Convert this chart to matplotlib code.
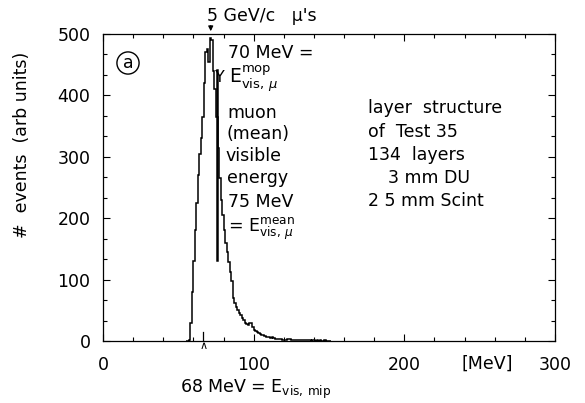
import numpy as np
import matplotlib
matplotlib.use("Agg")
import matplotlib.pyplot as plt
from matplotlib.ticker import MultipleLocator

plt.rcParams['font.family'] = ['DejaVu Sans']
plt.rcParams['mathtext.fontset'] = 'dejavusans'

# ---- data ----
bin_start = 55          # MeV, 1 MeV bins
counts = [0, 0, 2, 30, 80, 130, 180, 225, 270, 305,          # 55-64
          330, 365, 420, 470, 475, 455, 493, 490, 440, 410,  # 65-74
          365, 315, 265, 230, 205, 180, 160, 145, 128, 112,  # 75-84
          97, 70, 62, 56, 50, 46, 42, 38, 34, 30,            # 85-94
          27, 26, 30, 29, 22, 18, 16, 15, 13, 11,            # 95-104
          10, 9, 8, 7, 7, 6, 5, 6, 5, 4,                     # 105-114
          4, 3, 3, 3, 2, 2, 2, 3, 3, 3,                      # 115-124
          2, 2, 1, 1, 2, 1, 1, 1, 2, 1,                      # 125-134
          1, 1, 1, 0, 1, 1, 0, 1, 0, 1,                      # 135-144
          0, 0, 1, 0, 0, 0]                                  # 145-150
x_ticks = [0, 100, 200, 300]
y_ticks = [0, 100, 200, 300, 400, 500]
e_mop_marker = 71.5    # arrow at top (beam)
e_mean_marker = 75.5   # vertical mean line
e_mip_marker = 66.5    # caret below axis
mean_line_range = [132, 441]

W, H = 585, 403
fig = plt.figure(figsize=(W / 100, H / 100), dpi=100)
ax = fig.add_axes([103 / W, 1 - 341 / H, (555 - 103) / W, (341 - 34) / H])

edges = np.arange(bin_start, bin_start + len(counts) + 1)
ax.stairs(counts, edges, color='black', lw=1.1)

ax.set_xlim(0, 300)
ax.set_ylim(0, 500)
ax.set_xticks(x_ticks)
ax.set_yticks(y_ticks)
ax.xaxis.set_minor_locator(MultipleLocator(20))
ax.yaxis.set_minor_locator(MultipleLocator(100 / 3))
ax.tick_params(which='both', direction='in', top=True, right=True,
               width=0.8, labelsize=12.5)
ax.tick_params(which='major', length=5)
ax.tick_params(which='minor', length=3)
ax.tick_params(axis='x', pad=11)
ax.tick_params(axis='y', pad=9)
for s in ax.spines.values():
    s.set_linewidth(0.9)

# mean line
ax.plot([e_mean_marker, e_mean_marker], mean_line_range, color='black', lw=1.8)
# arrow from top label to peak
ax.annotate('', xy=(e_mop_marker, 500), xytext=(e_mop_marker, 518),
            arrowprops=dict(arrowstyle='-|>', color='black', lw=0.9,
                            mutation_scale=7), annotation_clip=False)
# caret below axis for E_vis,mip
ax.plot([e_mip_marker, e_mip_marker], [0, 14], color='black', lw=0.9)
ax.text(e_mip_marker, -8, '∧', ha='center', va='center', fontsize=8,
        clip_on=False)

def fx(px):
    return px / W

def fy(py):
    return 1 - py / H

fs = 12.5
fig.text(fx(22), fy(145), '#  events  (arb units)', rotation=90,
         ha='center', va='center', fontsize=fs)
fig.text(fx(487), fy(364), '[MeV]', ha='center', va='center', fontsize=fs)
fig.text(fx(207), fy(16), "5 GeV/c   μ's", ha='left', va='center', fontsize=fs)
fig.text(fx(180), fy(389),
         r'68 MeV = $\mathrm{E}_{\mathrm{vis,\,mip}}$',
         ha='left', va='center', fontsize=fs)

fig.text(fx(128), fy(63), 'a', ha='center', va='center', fontsize=fs,
         bbox=dict(boxstyle='circle,pad=0.12', fc='none', ec='black', lw=1))

# left annotation block
fig.text(fx(228), fy(53), '70 MeV =', ha='left', va='center', fontsize=fs)
fig.text(fx(215), fy(77), 'Y', ha='left', va='center', fontsize=fs - 1)
fig.text(fx(229), fy(79), r'$\mathrm{E}^{\mathrm{mop}}_{\mathrm{vis,}\,\mu}$',
         ha='left', va='center', fontsize=fs + 1)
fig.text(fx(227), fy(113), 'muon', ha='left', va='center', fontsize=fs)
fig.text(fx(227), fy(134), '(mean)', ha='left', va='center', fontsize=fs)
fig.text(fx(225), fy(156), 'visible', ha='left', va='center', fontsize=fs)
fig.text(fx(227), fy(178), 'energy', ha='left', va='center', fontsize=fs)
fig.text(fx(228), fy(202), '75 MeV', ha='left', va='center', fontsize=fs)
fig.text(fx(228), fy(229), r'= $\mathrm{E}^{\mathrm{mean}}_{\mathrm{vis,}\,\mu}$',
         ha='left', va='center', fontsize=fs)

# right annotation block
fig.text(fx(368), fy(108), 'layer  structure', ha='left', va='center', fontsize=fs)
fig.text(fx(368), fy(132), 'of  Test 35', ha='left', va='center', fontsize=fs)
fig.text(fx(368), fy(155), '134  layers', ha='left', va='center', fontsize=fs)
fig.text(fx(388), fy(178), '3 mm DU', ha='left', va='center', fontsize=fs)
fig.text(fx(368), fy(201), '2 5 mm Scint', ha='left', va='center', fontsize=fs)

fig.savefig('out.png', dpi=100, facecolor='white')
